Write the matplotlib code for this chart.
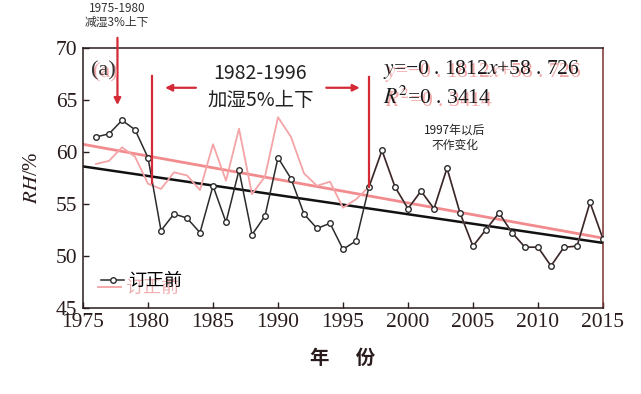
import numpy as np
import matplotlib
matplotlib.use("Agg")
import matplotlib.pyplot as plt
from matplotlib.legend import Legend

plt.rcParams['mathtext.fontset'] = 'stix'

# data
years = list(range(1976, 2016))
rh_before = [61.4, 61.7, 63.0, 62.1, 59.4, 52.4, 54.0, 53.6, 52.2, 56.7,
             53.2, 58.2, 52.0, 53.8, 59.4, 57.4, 54.0, 52.6, 53.1, 50.6,
             51.4, 56.6, 60.1, 56.6, 54.5, 56.2, 54.5, 58.4, 54.1, 50.9,
             52.5, 54.1, 52.2, 50.8, 50.8, 49.0, 50.8, 50.9, 55.1, 51.6]
rh_after = [58.8, 59.1, 60.4, 59.5, 56.9, 56.4, 58.0, 57.7, 56.3, 60.7,
            57.2, 62.2, 55.9, 57.6, 63.3, 61.4, 57.9, 56.7, 57.1, 54.6,
            55.4, 56.6, 60.1, 56.6, 54.5, 56.2, 54.5, 58.4, 54.1, 50.9,
            52.5, 54.1, 52.2, 50.8, 50.8, 49.0, 50.8, 50.9, 55.1, 51.6]
xticks = [1975, 1980, 1985, 1990, 1995, 2000, 2005, 2010, 2015]
yticks = [45, 50, 55, 60, 65, 70]

red = '#d42a35'
pink = '#f4a3a6'
pink_trend = '#f28b8e'
ghost = '#f2a8a8'
dark = '#2a1c1c'
serif = 'Liberation Serif'
cjk = ['Noto Sans CJK SC', 'DejaVu Sans']

fig = plt.figure(figsize=(6.41, 3.94), dpi=100)
ax = fig.add_axes([0.1295, 0.2195, 0.8112, 0.6599])

x = np.array(years)
# trend lines
t = np.array([1975, 2015])
p1 = np.polyfit(x, rh_after, 1)
p0 = np.polyfit(x, rh_before, 1)
ax.plot(t, np.polyval(p1, t), color=pink_trend, lw=2.0, zorder=2)
ax.plot(t, np.polyval(p0, t), color='#111111', lw=1.8, zorder=2)

l_after, = ax.plot(years, rh_after, color=pink, lw=1.3, zorder=3)
l_before, = ax.plot(years, rh_before, color='#2b2b2b', lw=1.1, marker='o', ms=4,
                    mfc='white', mec='#2b2b2b', mew=1.0, zorder=4)

ax.set_xlim(1975, 2015)
ax.set_ylim(45, 70)
ax.set_xticks(xticks)
ax.set_yticks(yticks)
ax.tick_params(direction='in', length=4, width=1, colors=dark, labelsize=15.5, pad=4)
for lab in ax.get_xticklabels() + ax.get_yticklabels():
    lab.set_fontfamily(serif)
for s in ax.spines.values():
    s.set_color(dark)
    s.set_linewidth(1.1)
ax.spines['right'].set_color('#7a3030')

ax.set_ylabel(r'$RH$/%', fontfamily=serif, fontsize=15, color=dark, labelpad=10)
ax.set_xlabel('年      份', fontfamily=cjk, fontsize=14, fontweight='bold', color=dark, labelpad=12)

# red annotation marks
ax.plot([1980.3, 1980.3], [67.25, 57.0], color=red, lw=1.6, zorder=5)
ax.plot([1997, 1997], [67.2, 56.6], color=red, lw=1.6, zorder=5)
ax.annotate('', xy=(1981.1, 66.13), xytext=(1983.9, 66.13),
            arrowprops=dict(arrowstyle='-|>', color=red, lw=1.6, mutation_scale=10))
ax.annotate('', xy=(1996.5, 66.13), xytext=(1993.5, 66.13),
            arrowprops=dict(arrowstyle='-|>', color=red, lw=1.6, mutation_scale=10))
ax.annotate('', xy=(1977.65, 64.2), xytext=(1977.65, 71.2), annotation_clip=False,
            arrowprops=dict(arrowstyle='-|>', color=red, lw=1.6, mutation_scale=10))

ax.text(1988.65, 67.5, '1982-1996', ha='center', va='center', fontsize=14,
        fontfamily=cjk, color='#222222')
ax.text(1988.65, 64.95, '加湿5%上下', ha='center', va='center', fontsize=14,
        fontfamily=cjk, color='#222222')
fig.text(117 / 641, 1 - 15 / 394, '1975-1980\n减湿3%上下', ha='center', va='center',
         fontsize=8.5, fontfamily=cjk, color='#333333', linespacing=1.1)
ax.text(2003.6, 61.3, '1997年以后\n不作变化', ha='center', va='center', fontsize=8.5,
        fontfamily=cjk, color='#222222', linespacing=1.2)

# equation text with faint pink copy underneath
eq = r'$y$=−0 . 1812$x$+58 . 726'
r2 = r'$R^2$=0 . 3414'
for dx, dy, c, z in [(0.15, -0.28, ghost, 5), (0, 0, '#1a1a1a', 6)]:
    ax.text(1998.1 + dx, 67.85 + dy, eq, ha='left', va='center', fontsize=15.5,
            fontfamily=serif, color=c, zorder=z)
    ax.text(1998.1 + dx, 65.15 + dy, r2, ha='left', va='center', fontsize=15.5,
            fontfamily=serif, color=c, zorder=z)
    ax.text(1976.6 + dx, 67.8 + dy, '(a)', ha='center', va='center', fontsize=16,
            fontfamily=serif, color=c if c == ghost else '#333333', zorder=z)

# legends: black entry and pink copy
leg_ghost = Legend(ax, [l_after], ['订正前'], loc='lower left', bbox_to_anchor=(-0.003, -0.022),
                   frameon=False, handlelength=1.3, handletextpad=0.2,
                   prop={'family': cjk, 'size': 13})
for txt in leg_ghost.get_texts():
    txt.set_color('#f0b0b0')
ax.add_artist(leg_ghost)
ax.legend([l_before], ['订正前'], loc='lower left', bbox_to_anchor=(0.003, 0.005),
          frameon=False, handlelength=1.3, handletextpad=0.2,
          prop={'family': cjk, 'size': 13})

fig.savefig('out.png', dpi=100)
